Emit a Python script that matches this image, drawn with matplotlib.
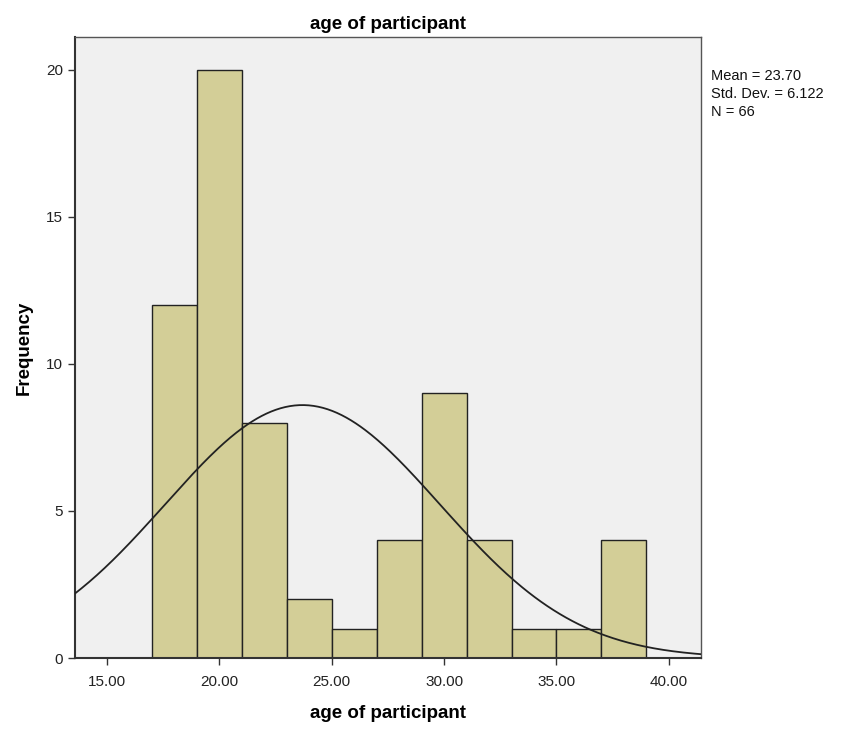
import numpy as np
import matplotlib.pyplot as plt

# histogram bins (age, width 2) and counts
bin_edges = [17, 19, 21, 23, 25, 27, 29, 31, 33, 35, 37, 39]
counts = [12, 20, 8, 2, 1, 4, 9, 4, 1, 1, 4]
mean_age = 23.70
sd_age = 6.122
n_obs = 66
x_ticks = [15, 20, 25, 30, 35, 40]
y_ticks = [0, 5, 10, 15, 20]

plt.rcParams['font.family'] = ['Liberation Sans', 'DejaVu Sans']

fig = plt.figure(figsize=(8.42, 7.32), dpi=100)
ax = fig.add_axes([75/842, 1-658/732, (701-75)/842, (658-37)/732])
ax.set_facecolor('#f0f0f0')

edges = np.array(bin_edges)
ax.bar(edges[:-1], counts, width=np.diff(edges), align='edge',
       color='#d3ce97', edgecolor='#222222', linewidth=1.0, zorder=2)

# fitted normal curve scaled to counts
x0, x1 = 13.58, 41.43
xs = np.linspace(x0, x1, 400)
bw = edges[1] - edges[0]
ys = n_obs * bw / (sd_age * np.sqrt(2*np.pi)) * np.exp(-0.5*((xs-mean_age)/sd_age)**2)
ax.plot(xs, ys, color='#222222', lw=1.3, zorder=3)

ax.set_xlim(x0, x1)
ax.set_ylim(0, 21.12)
ax.set_xticks(x_ticks)
ax.set_xticklabels([f'{t:.2f}' for t in x_ticks], fontsize=11)
ax.set_yticks(y_ticks)
ax.set_yticklabels([str(t) for t in y_ticks], fontsize=11)
ax.tick_params(length=5, width=1, color='#333333', labelcolor='#222222')
ax.tick_params(axis='x', pad=7)
for s in ax.spines.values():
    s.set_color('#555555')
    s.set_linewidth(1.0)
ax.spines['left'].set_color('#333333')
ax.spines['bottom'].set_color('#333333')
ax.spines['left'].set_linewidth(1.5)
ax.spines['bottom'].set_linewidth(1.5)

ax.set_title('age of participant', fontsize=13.5, fontweight='bold', pad=6)
ax.set_xlabel('age of participant', fontsize=13.5, fontweight='bold', labelpad=12)
ax.set_ylabel('Frequency', fontsize=13.5, fontweight='bold', labelpad=10)

fig.text(711/842, 1-69/732, f'Mean = {mean_age:.2f}\nStd. Dev. = {sd_age:.3f}\nN = {n_obs}',
         fontsize=10.5, va='top', ha='left', linespacing=1.35, color='#111111')

fig.savefig('out.png', dpi=100)
